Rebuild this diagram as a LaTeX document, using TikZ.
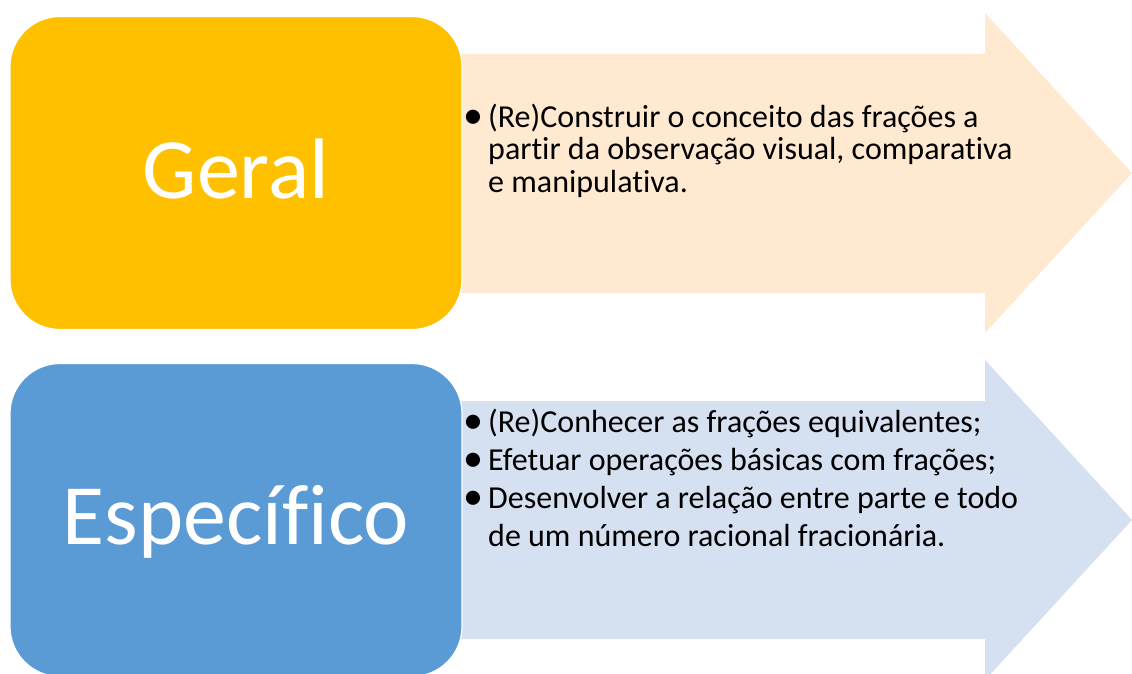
\documentclass[tikz,border=0pt]{standalone}
\usepackage{fontspec}
\setmainfont[Ligatures=NoCommon]{Carlito}
\usepackage{array}
\usepackage{graphicx}
\definecolor{gold}{HTML}{FFC000}
\definecolor{peach}{HTML}{FFE9D0}
\definecolor{bluebox}{HTML}{5B9BD5}
\definecolor{paleblue}{HTML}{D5E0F0}
\tikzset{
  titlebox/.style={rounded corners=50pt, draw=white, line width=1.2pt,
    minimum width=452pt, minimum height=313pt, inner sep=0pt},
  titletext/.style={text=white, font=\fontsize{86}{100}\selectfont, anchor=base, inner sep=0pt},
  bullets/.style={anchor=base west, inner sep=0pt, align=left}
}
\newcommand{\bl}{\makebox[25pt][l]{\raisebox{-1pt}{\scalebox{1.25}{•}}}}
\begin{document}
\begin{tikzpicture}[x=1pt,y=-1pt]
\useasboundingbox (0,0) rectangle (1132,673);
% arrows
\fill[peach] (458,54) -- (985,54) -- (985,13) -- (1132,173) -- (985,333) -- (985,293) -- (458,293) -- cycle;
\fill[paleblue] (458,401) -- (985,401) -- (985,360) -- (1132,520) -- (985,680) -- (985,639) -- (458,639) -- cycle;
% boxes
\node[titlebox, fill=gold] (geral) at (236,173) {};
\node[titletext] (geraltxt) at (236,198) {Geral};
\node[titlebox, fill=bluebox] (espec) at (236,520) {};
\node[titletext] (especTxt) at (236,544) {Específico};
% texts
\node[bullets, font=\fontsize{32}{32.5}\selectfont] (t1) at (463,127) {%
\begin{tabular}[t]{@{}l@{}l@{}}
\bl & (Re)Construir o conceito das frações a\\
 & partir da observação visual, comparativa\\
 & e manipulativa.
\end{tabular}};
\node[bullets, font=\fontsize{32}{38}\selectfont] (t2) at (463,432) {%
\begin{tabular}[t]{@{}l@{}l@{}}
\bl & (Re)Conhecer as frações equivalentes;\\
\bl & Efetuar operações básicas com frações;\\
\bl & Desenvolver a relação entre parte e todo\\
 & de um número racional fracionária.
\end{tabular}};
\end{tikzpicture}
\end{document}
